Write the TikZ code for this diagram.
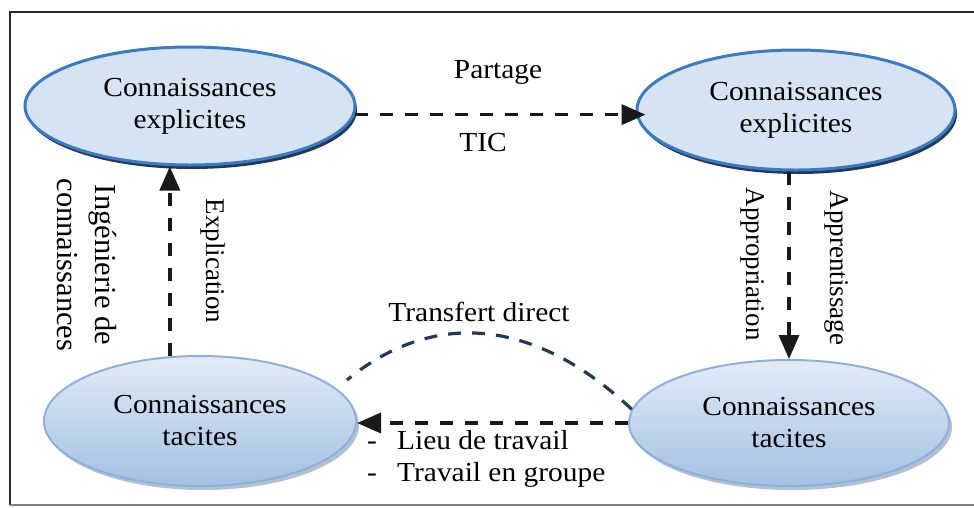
\documentclass[tikz,border=0pt]{standalone}
\usepackage{fontspec}
\setmainfont{Liberation Serif}[FakeStretch=1.07]
\newfontfamily\rotfont{Liberation Serif}
\usetikzlibrary{shapes.geometric,arrows.meta,shadows}
\definecolor{topfill}{HTML}{D5E3F3}
\definecolor{topline}{HTML}{3B7BBF}
\definecolor{topshadow}{HTML}{22385A}
\definecolor{botlight}{HTML}{E2ECF7}
\definecolor{botdark}{HTML}{A3C0E2}
\definecolor{botline}{HTML}{8DB1DA}
\definecolor{botshadow}{HTML}{7D97B4}
\definecolor{curvecol}{HTML}{213A5A}
\definecolor{framecol}{HTML}{2A2A2A}
\begin{document}
\begin{tikzpicture}[x=1pt,y=-1pt,
  txt/.style={font=\fontsize{27.5}{32}\selectfont, inner sep=0pt},
  rtxt/.style={font=\rotfont\fontsize{27}{32}\selectfont, inner sep=0pt, rotate=-90},
  topell/.style={ellipse, draw=topline, line width=3pt, fill=topfill, inner sep=0pt,
    align=center, font=\fontsize{27.5}{32}\selectfont,
    drop shadow={shadow xshift=2pt, shadow yshift=-4pt, fill=topshadow, opacity=1}},
  botell/.style={ellipse, draw=botline, line width=2pt, top color=botlight, bottom color=botdark,
    inner sep=0pt, align=center, font=\fontsize{27.5}{32}\selectfont,
    drop shadow={shadow xshift=3pt, shadow yshift=-4pt, fill=botshadow, opacity=0.6}},
  arr/.style={line width=3.5pt, color=black!90, dash pattern=on 13pt off 12pt,
    -{Triangle[length=24pt,width=20pt]}},
  tcurve/.style={line width=3.2pt, color=curvecol, dash pattern=on 13pt off 11pt}]
\useasboundingbox (0,0) rectangle (974,507);
% frame
\begin{scope}
\clip (0,0) rectangle (974,507);
\draw[line width=2.5pt, color=framecol] (10,505) -- (10,12) -- (980,12);
\draw[line width=1.5pt, color=gray] (10,505) -- (980,505);
\end{scope}
% nodes
\node[topell, minimum width=330pt, minimum height=118pt] (TL) at (190,106) {Connaissances\\explicites};
\node[topell, minimum width=318pt, minimum height=120pt] (TR) at (796,110) {Connaissances\\explicites};
\node[botell, minimum width=312pt, minimum height=130pt] (BL) at (200,421) {Connaissances\\tacites};
\node[botell, minimum width=320pt, minimum height=126pt] (BR) at (789,423) {Connaissances\\tacites};
% connectors
\draw[arr, shorten >=-10pt] (TL.-3) -- (TL.-3 -| TR.west);
\draw[arr] (BR.north |- TR.south) -- (BR.north);
\draw[arr] (BR.west) -- (BR.west -| BL.east);
\draw[arr] (BL.115) -- (BL.115 |- TL.south);
\coordinate (tdL) at (347,380);
\draw[tcurve] (BR.175) .. controls (520,305) and (420,320) .. (tdL);
% labels
\node[txt] (partage) at (498,72) {Partage};
\node[txt] (tic) at (483,143) {TIC};
\node[rtxt] (appro) at (753,264) {Appropriation};
\node[rtxt] (apprent) at (837,268) {Apprentissage};
\node[rtxt] (expl) at (213,261) {Explication};
\node[rtxt, font=\rotfont\fontsize{30.5}{38}\selectfont, align=center] (inge) at (87,265) {Ingénierie de\\connaissances};
\node[txt] (transf) at (479,312) {Transfert direct};
\node[txt, anchor=west, align=left] (lieu) at (367,459) {\makebox[30pt][l]{-}Lieu de travail\\\makebox[30pt][l]{-}Travail en groupe};
\end{tikzpicture}
\end{document}
